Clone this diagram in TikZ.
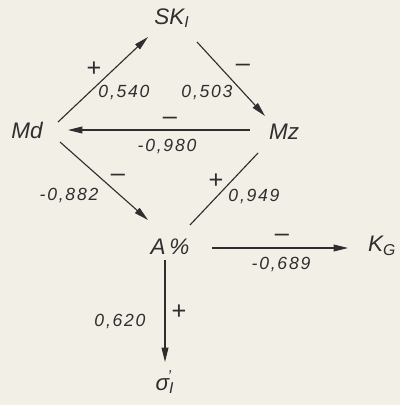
\documentclass[tikz,border=0pt]{standalone}
\usepackage{fontspec}
\setmainfont{Liberation Sans}
\usepackage{tikz}
\usetikzlibrary{arrows.meta}
\definecolor{paper}{HTML}{F2EFE7}
\definecolor{ink}{HTML}{2E2E2E}
\tikzstyle{var} = [inner sep=0pt, text=ink, font=\fontsize{16}{19}\selectfont\itshape]
\tikzstyle{coef} = [inner sep=0pt, text=ink, font=\fontsize{12.5}{14}\selectfont\itshape\addfontfeature{LetterSpace=10}]
\tikzstyle{sign} = [inner sep=0pt, text=ink, font=\fontsize{18}{20}\selectfont]
\tikzstyle{arrow} = [line width=0.8pt, ->, >={Stealth[length=3.6mm,width=1.7mm,inset=0pt]}, color=ink]
\tikzstyle{link} = [line width=0.8pt, color=ink]
\begin{document}
\begin{tikzpicture}[x=0.025cm, y=-0.025cm]
        \fill[paper] (0,0) rectangle (400,405);

        % Variables
        \node (sk) [var] at (172,18) {SK\textsubscript{I}};
        \node (md) [var] at (27,130) {Md};
        \node (mz) [var] at (284,132) {Mz};
        \node (ap) [var] at (170,247) {A\,\%};
        \node (kg) [var] at (382,246) {K\textsubscript{G}};
        \node (sg) [var] at (165,382) {σ\textsuperscript{\kern-0.1em'}\kern-0.12em\textsubscript{I}};

        % Connections
        \draw [arrow] ([shift={(31,-8)}]md.center) -- ([shift={(-24,19)}]sk.center)
            node [sign] at (94,69) {+}
            node [coef] at (124,92) {0,540};
        \draw [arrow] ([shift={(25,24)}]sk.center) -- ([shift={(-19,-16)}]mz.center)
            node [sign] at (243,68) {–}
            node [coef] at (207,92) {0,503};
        \draw [arrow] ([shift={(-34,-2)}]mz.center) -- ([shift={(41,0)}]md.center)
            node [sign] at (170,121) {–}
            node [coef] at (167,146) {-0,980};
        \draw [arrow] ([shift={(33,12)}]md.center) -- ([shift={(-22,-27)}]ap.center)
            node [sign] at (118,178) {–}
            node [coef] at (69,195) {-0,882};
        \draw [link] ([shift={(-26,21)}]mz.center) -- ([shift={(20,-22)}]ap.center)
            node [sign] at (216,181) {+}
            node [coef] at (254,196) {0,949};
        \draw [arrow] ([shift={(42,1)}]ap.center) -- ([shift={(-34,2)}]kg.center)
            node [sign] at (282,238) {–}
            node [coef] at (281,264) {-0,689};
        \draw [arrow] ([shift={(-5,13)}]ap.center) -- ([shift={(0,-20)}]sg.center)
            node [sign] at (179,312) {+}
            node [coef] at (120,321) {0,620};
    \end{tikzpicture}
\end{document}
